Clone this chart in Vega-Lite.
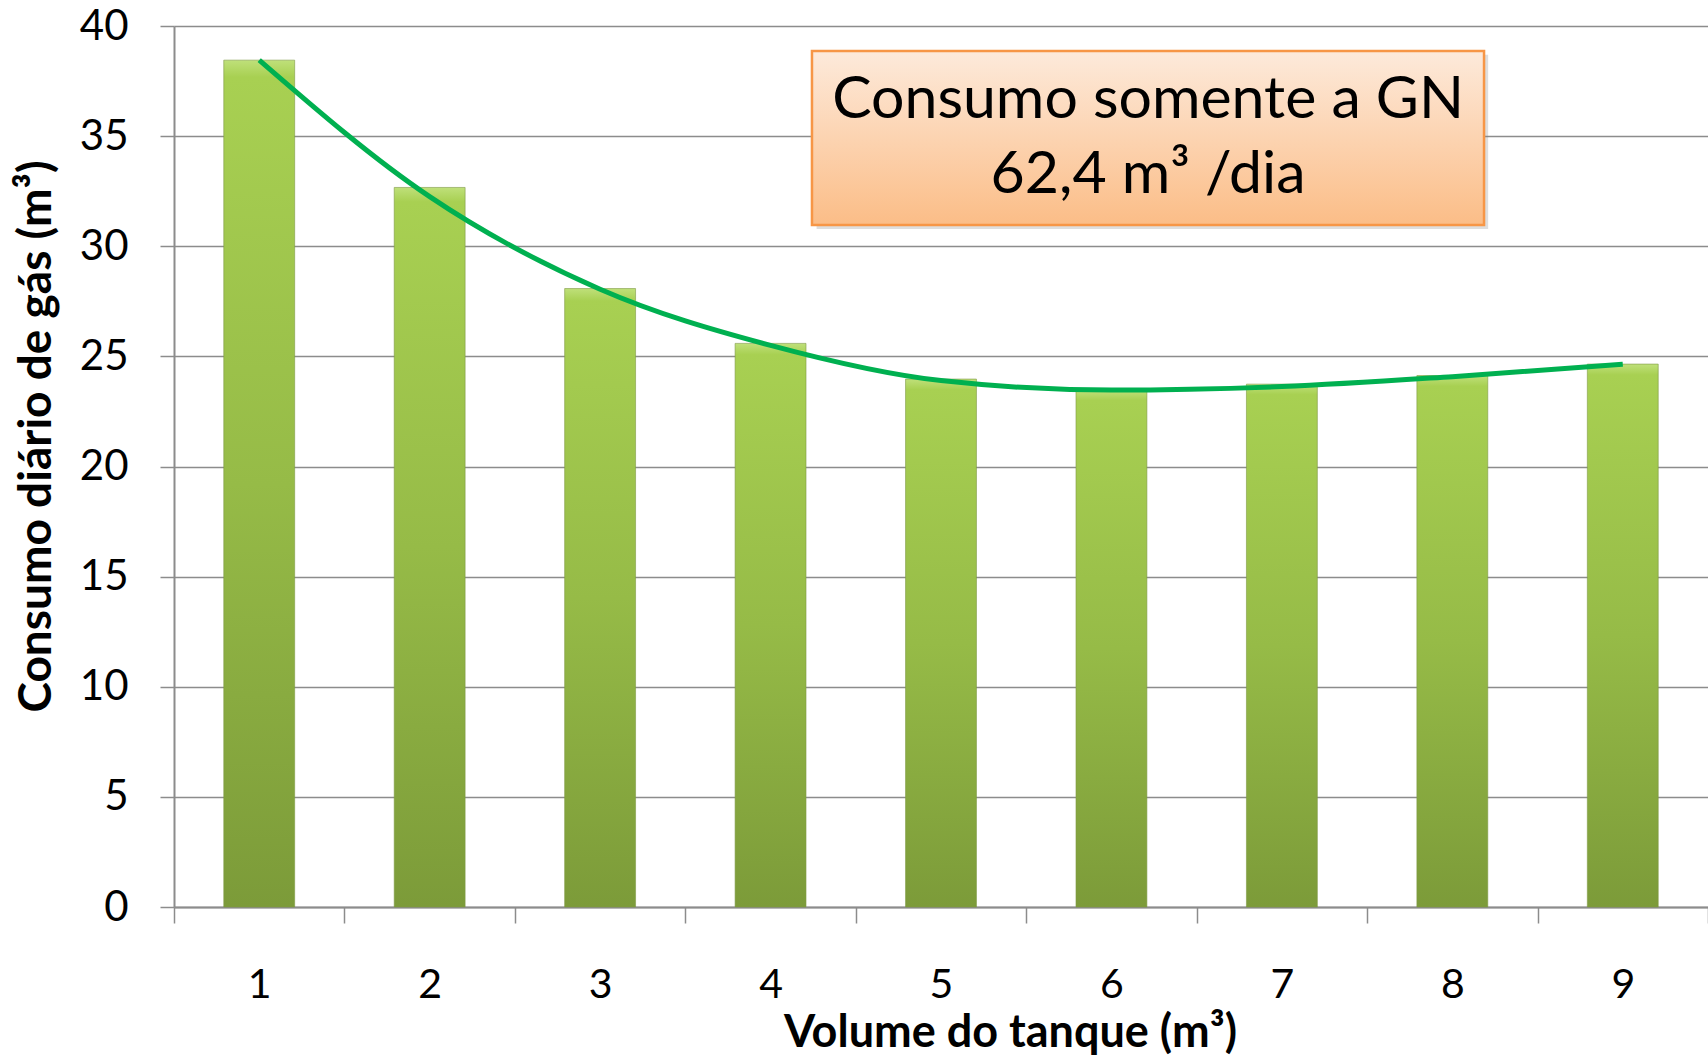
{
  "$schema": "https://vega.github.io/schema/vega-lite/v6.json",
  "autosize": "none",
  "width": 1534,
  "height": 881,
  "padding": {"left": 174, "top": 26, "right": 0, "bottom": 150},
  "background": "white",
  "config": {"view": {"stroke": null}, "font": "Lato"},
  "data": {"values": [
    {"vol": "1", "consumo": 38.45, "tendencia": 38.45},
    {"vol": "2", "consumo": 32.67, "tendencia": 32.25},
    {"vol": "3", "consumo": 28.08, "tendencia": 28.05},
    {"vol": "4", "consumo": 25.59, "tendencia": 25.5},
    {"vol": "5", "consumo": 23.97, "tendencia": 23.9},
    {"vol": "6", "consumo": 23.47, "tendencia": 23.47},
    {"vol": "7", "consumo": 23.74, "tendencia": 23.63},
    {"vol": "8", "consumo": 24.13, "tendencia": 24.08},
    {"vol": "9", "consumo": 24.65, "tendencia": 24.64}
  ]},
  "layer": [
    {
      "layer": [
        {
          "mark": {
            "type": "bar",
            "width": {"band": 0.416},
            "color": {"gradient": "linear", "x1": 0, "y1": 0, "x2": 0, "y2": 1, "stops": [
              {"offset": 0, "color": "#bfe07a"},
              {"offset": 0.02, "color": "#a8d052"},
              {"offset": 0.5, "color": "#96bb47"},
              {"offset": 1, "color": "#7c9b39"}
            ]},
            "stroke": "#7f9a45",
            "strokeWidth": 1,
            "strokeOpacity": 0.6
          },
          "encoding": {
            "x": {
              "field": "vol", "type": "ordinal",
              "scale": {"type": "band", "paddingInner": 0, "paddingOuter": 0},
              "axis": {
                "title": "Volume do tanque (m³)",
                "titleFont": "Lato", "titleFontWeight": "bold", "titleFontSize": 45, "titleColor": "#000000",
                "titleX": 836, "titleY": 139, "titleAlign": "center", "titleAnchor": null, "titleBaseline": "alphabetic",
                "labelAngle": 0, "labelFont": "Lato", "labelFontSize": 41, "labelColor": "#000000",
                "labelBaseline": "alphabetic", "labelPadding": 74,
                "tickBand": "extent", "tickSize": 16, "tickColor": "#8c8c8c", "tickWidth": 1.5,
                "domainColor": "#8c8c8c", "domainWidth": 2,
                "grid": false
              }
            },
            "y": {
              "field": "consumo", "type": "quantitative",
              "scale": {"domain": [0, 40], "nice": false},
              "axis": {
                "title": "Consumo diário de gás (m³)",
                "titleFont": "Lato", "titleFontWeight": "bold", "titleFontSize": 46, "titleColor": "#000000",
                "titleAngle": -90, "titleX": -124, "titleY": 410, "titleAlign": "center", "titleAnchor": null, "titleBaseline": "alphabetic",
                "values": [0, 5, 10, 15, 20, 25, 30, 35, 40],
                "labelFont": "Lato", "labelFontSize": 42, "labelColor": "#000000", "labelPadding": 32,
                "tickSize": 14, "tickColor": "#8c8c8c", "tickWidth": 1.5,
                "domainColor": "#8c8c8c", "domainWidth": 2,
                "grid": true, "gridColor": "#8c8c8c", "gridWidth": 1.5
              }
            }
          }
        },
        {
          "mark": {"type": "line", "color": "#00b050", "strokeWidth": 5, "interpolate": "monotone"},
          "encoding": {
            "x": {"field": "vol", "type": "ordinal"},
            "y": {"field": "tendencia", "type": "quantitative"}
          }
        }
      ]
    },
    {
      "data": {"values": [{"rotulo": "caixa"}]},
      "layer": [
        {
          "mark": {"type": "rect", "fill": "#7a7a7a", "opacity": 0.25},
          "encoding": {
            "x": {"datum": 4.27, "type": "quantitative", "scale": {"domain": [0.5, 9.5], "nice": false, "zero": false}, "axis": null},
            "x2": {"datum": 8.21},
            "y": {"datum": 38.7, "type": "quantitative"},
            "y2": {"datum": 30.78}
          }
        },
        {
          "mark": {
            "type": "rect",
            "fill": {"gradient": "linear", "x1": 0, "y1": 0, "x2": 0, "y2": 1, "stops": [
              {"offset": 0, "color": "#fdeadb"},
              {"offset": 1, "color": "#fbbd87"}
            ]},
            "stroke": "#f79646",
            "strokeWidth": 2.5
          },
          "encoding": {
            "x": {"datum": 4.243, "type": "quantitative"},
            "x2": {"datum": 8.186},
            "y": {"datum": 38.87, "type": "quantitative"},
            "y2": {"datum": 30.96}
          }
        },
        {
          "mark": {
            "type": "text",
            "text": ["Consumo somente a GN", "62,4 m³ /dia"],
            "font": "Lato", "fontSize": 59, "color": "#000000",
            "align": "center", "baseline": "middle", "lineHeight": 75
          },
          "encoding": {
            "x": {"datum": 6.215, "type": "quantitative"},
            "y": {"datum": 36.62, "type": "quantitative"}
          }
        }
      ]
    }
  ],
  "resolve": {"scale": {"x": "independent"}, "axis": {"x": "independent"}}
}
